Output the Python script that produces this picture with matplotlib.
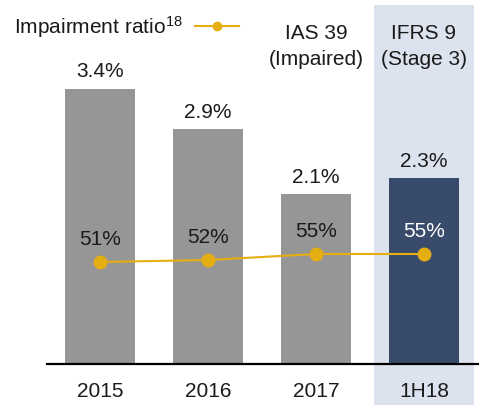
import matplotlib
matplotlib.use("Agg")
import matplotlib.pyplot as plt
from matplotlib.lines import Line2D

plt.rcParams["font.family"] = ["Liberation Sans", "DejaVu Sans"]
plt.rcParams["mathtext.fontset"] = "custom"
plt.rcParams["mathtext.rm"] = "Liberation Sans"
plt.rcParams["mathtext.it"] = "Liberation Sans"

# ── Data ──────────────────────────────────────────────────────────────────────
periods = ["2015", "2016", "2017", "1H18"]
npl_ratio = [3.4, 2.9, 2.1, 2.3]          # bars, %
impairment_ratio = [51, 52, 55, 55]      # line, %
bar_labels = ["3.4%", "2.9%", "2.1%", "2.3%"]
line_labels = ["51%", "52%", "55%", "55%"]

GREY = "#969696"; NAVY = "#384b6b"; GOLD = "#e5ae12"; SHADE = "#dce3ee"
TXT = "#1a1a1a"
FS = 15

W, H = 479, 405
fig = plt.figure(figsize=(W / 100, H / 100), dpi=100)
# axes: bottom spine at y=364 px, from x=47 to right edge
ax = fig.add_axes([47 / W, (H - 364) / H, (W - 47) / W, 364 / H])
ax.set_xlim(-0.49, 3.51)
ax.set_ylim(0, 4.494)

# IFRS 9 shaded column, extends above and below the axes
ax.axvspan(3 - 0.46, 3 + 0.46, ymin=-41 / 364, ymax=359 / 364,
           color=SHADE, lw=0, clip_on=False, zorder=0)

x = range(len(periods))
colors = [GREY, GREY, GREY, NAVY]
ax.bar(x, npl_ratio, width=0.65, color=colors, zorder=2)
for i, v in enumerate(npl_ratio):
    ax.annotate(bar_labels[i], (i, v), xytext=(0, 8), textcoords="offset points",
                ha="center", va="baseline", fontsize=FS, color=TXT, zorder=5)

ax2 = ax.twinx()
ax2.set_ylim(0, 182)
ax2.plot(x, impairment_ratio, "-o", color=GOLD, lw=1.5, ms=9, zorder=4)
for i, v in enumerate(impairment_ratio):
    ax2.annotate(line_labels[i], (i, v), xytext=(0, 12), textcoords="offset points",
                 ha="center", va="baseline", fontsize=FS,
                 color="white" if i == 3 else TXT)

for a in (ax, ax2):
    for s in ("top", "right", "left"):
        a.spines[s].set_visible(False)
    a.set_yticks([])
ax2.spines["bottom"].set_visible(False)
ax.spines["bottom"].set_linewidth(1.6)
ax.set_xticks(list(x))
ax.set_xticklabels(periods, fontsize=FS, color=TXT)
ax.tick_params(axis="x", length=0, pad=13)

# regime headers
xt = ax.get_xaxis_transform()
ax.text(2, 0.872, "IAS 39\n(Impaired)", transform=xt, ha="center", va="center",
        fontsize=FS, color=TXT, linespacing=1.5)
ax.text(3, 0.872, "IFRS 9\n(Stage 3)", transform=xt, ha="center", va="center",
        fontsize=FS, color=TXT, linespacing=1.5)

# legend
handle = Line2D([], [], color=GOLD, lw=1.5, marker="o", ms=6)
fig.legend([handle], [r"Impairment ratio$^{\mathrm{18}}$"], loc="upper left",
           bbox_to_anchor=(14 / W, 1 - 14 / H), frameon=False, markerfirst=False,
           fontsize=FS, handlelength=2.1, handletextpad=0.6, borderpad=0,
           borderaxespad=0, labelcolor=TXT)

fig.savefig("out.png", dpi=100)
